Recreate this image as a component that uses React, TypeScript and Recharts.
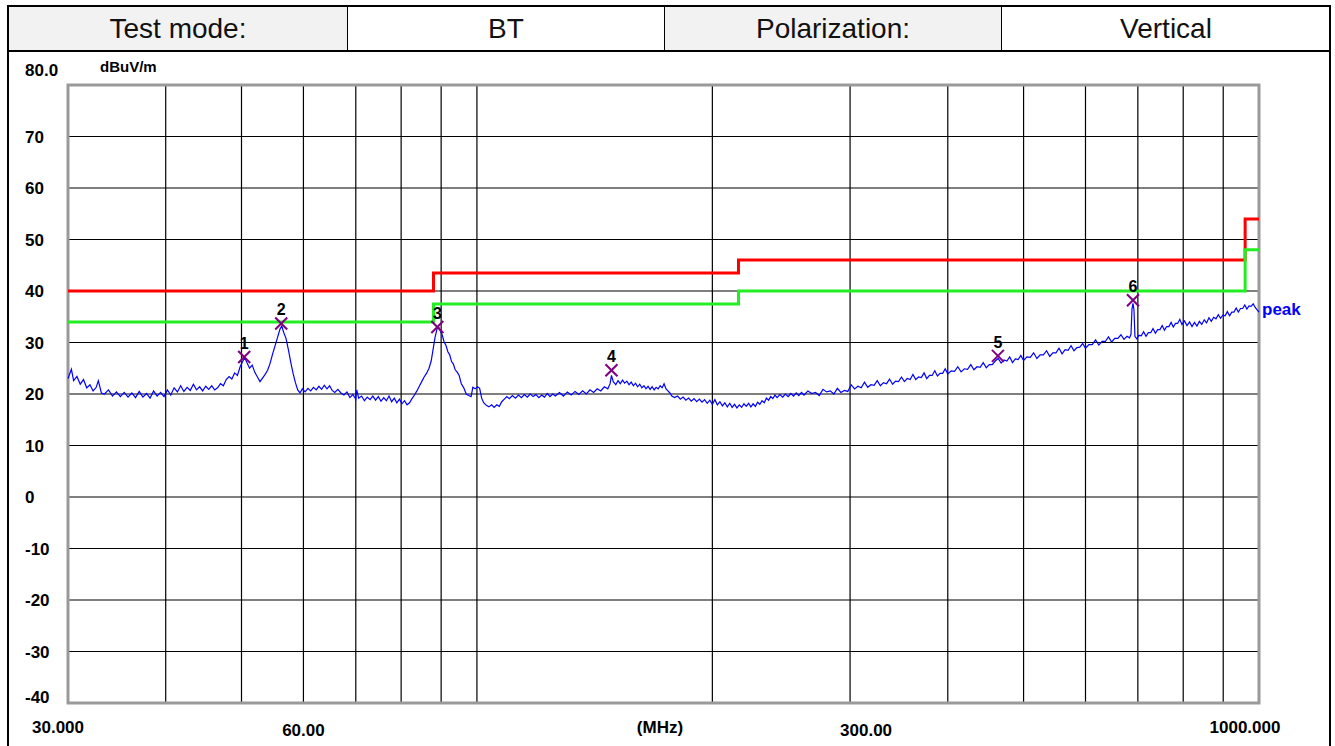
import React from 'react';
import {
  ComposedChart,
  Line,
  Scatter,
  XAxis,
  YAxis,
  CartesianGrid,
  ReferenceArea,
} from 'recharts';

const band30to100: [number, number][] = [
  [30.0, 23.0], [30.3, 24.8], [30.5, 22.6], [30.8, 23.4], [31.1, 21.9], [31.4, 22.8],
  [31.7, 21.2], [32.0, 21.8], [32.3, 20.6], [32.6, 21.3], [32.8, 22.6], [33.1, 20.2],
  [33.4, 20.0], [33.8, 20.8], [34.2, 19.6], [34.6, 20.4], [35.0, 19.5], [35.4, 20.3],
  [35.8, 19.4], [36.2, 20.2], [36.6, 19.3], [37.0, 20.5], [37.4, 19.4], [37.8, 20.1],
  [38.2, 19.2], [38.6, 20.6], [39.0, 19.6], [39.4, 20.3], [39.8, 19.5], [40.2, 20.8],
  [40.6, 19.8], [41.0, 21.2], [41.4, 20.4], [41.8, 21.6], [42.2, 20.5], [42.6, 21.3],
  [43.0, 20.7], [43.4, 21.9], [43.8, 20.8], [44.2, 21.4], [44.6, 20.6], [45.0, 21.5],
  [45.4, 20.9], [45.8, 21.6], [46.2, 20.8], [46.6, 21.2], [47.0, 22.0], [47.4, 21.6],
  [47.8, 22.8], [48.2, 23.4], [48.6, 22.9], [49.0, 24.1], [49.4, 23.6], [49.8, 25.3],
  [50.2, 26.4], [50.5, 27.0], [50.8, 26.1], [51.2, 25.0], [51.6, 25.6], [52.0, 24.2],
  [52.4, 23.3], [52.8, 22.4], [53.2, 23.1], [53.6, 23.8], [54.0, 24.6], [54.4, 26.0],
  [54.8, 27.8], [55.2, 29.4], [55.6, 31.0], [56.0, 32.6], [56.3, 33.2], [56.6, 32.0],
  [57.0, 30.8], [57.4, 28.6], [57.8, 26.2], [58.2, 24.0], [58.6, 22.2], [59.0, 20.8],
  [59.4, 20.2], [59.8, 21.0], [60.3, 20.4], [60.8, 21.1], [61.3, 20.6], [61.8, 21.3],
  [62.3, 20.8], [62.8, 21.5], [63.3, 20.9], [63.8, 21.7], [64.3, 21.0], [64.8, 21.6],
  [65.3, 20.7], [65.8, 20.3], [66.4, 20.9], [67.0, 20.2], [67.6, 19.8], [68.2, 20.4],
  [68.8, 19.3], [69.4, 19.9], [70.0, 19.0], [70.2, 20.8], [70.6, 19.2], [71.2, 19.6],
  [71.8, 18.7], [72.4, 19.4], [73.0, 18.9], [73.6, 19.6], [74.2, 18.8], [74.8, 19.5],
  [75.4, 18.6], [76.0, 19.3], [76.6, 18.7], [77.2, 19.6], [77.8, 18.5], [78.4, 19.2],
  [79.0, 18.3], [79.6, 19.0], [80.2, 18.1], [80.8, 18.7], [81.4, 17.9], [82.0, 18.3],
  [82.6, 19.1], [83.2, 19.8], [83.8, 20.6], [84.4, 21.5], [85.0, 22.4], [85.6, 23.3],
  [86.2, 24.0], [86.8, 24.9], [87.4, 26.4], [87.9, 28.7], [88.4, 31.0], [88.9, 32.6],
  [89.3, 33.1], [89.8, 32.2], [90.3, 31.4], [90.8, 30.1], [91.3, 29.4], [91.8, 28.2],
  [92.3, 27.6], [92.8, 26.3], [93.3, 25.8], [93.8, 24.7], [94.4, 24.2], [94.9, 23.6],
  [95.5, 22.0], [96.2, 21.2], [96.9, 20.0], [97.6, 19.7], [98.3, 19.5], [98.8, 21.3],
  [99.5, 21.0],
];

const band100to260: [number, number][] = [
  [100.2, 21.4], [100.8, 21.1], [101.4, 19.2], [102.0, 18.3], [102.8, 17.8], [103.6, 17.5],
  [104.4, 17.9], [105.2, 17.4], [106.0, 17.9], [106.8, 17.6], [107.6, 18.5], [108.4, 19.0],
  [109.2, 19.5], [110.0, 19.1], [111.0, 19.7], [112.0, 19.2], [113.0, 19.8], [114.0, 19.3],
  [115.0, 19.9], [116.0, 19.4], [117.0, 20.0], [118.0, 19.5], [119.0, 19.9], [120.0, 19.3],
  [121.0, 19.8], [122.0, 19.4], [123.0, 20.1], [124.0, 19.5], [125.0, 20.0], [126.0, 19.6],
  [127.5, 20.3], [129.0, 19.6], [130.5, 20.4], [132.0, 19.8], [133.5, 20.5], [135.0, 19.9],
  [136.5, 20.6], [138.0, 20.0], [139.5, 20.8], [141.0, 20.3], [142.5, 21.0], [144.0, 20.6],
  [145.5, 21.4], [147.0, 21.0], [148.0, 22.0], [148.6, 23.6], [149.4, 22.4], [150.5, 21.8],
  [151.5, 22.6], [152.5, 22.0], [153.5, 22.7], [154.5, 22.1], [155.5, 22.5], [156.5, 21.8],
  [157.5, 22.3], [158.5, 21.6], [159.5, 22.1], [160.5, 21.4], [161.5, 21.9], [162.5, 21.2],
  [163.5, 21.6], [164.5, 21.0], [165.5, 21.5], [166.5, 20.9], [167.5, 21.4], [168.5, 20.8],
  [169.5, 21.3], [170.5, 21.0], [171.5, 21.6], [172.5, 21.2], [173.5, 22.0], [174.5, 21.0],
  [175.5, 20.6], [176.5, 20.2], [177.5, 19.6], [179.0, 19.3], [180.5, 19.6], [182.0, 19.0],
  [183.5, 19.4], [185.0, 18.8], [186.5, 19.2], [188.0, 18.6], [189.5, 19.1], [191.0, 18.5],
  [192.5, 19.0], [194.0, 18.4], [195.5, 18.9], [197.0, 18.2], [198.5, 18.8], [200.0, 18.0],
  [201.5, 18.9], [203.0, 17.9], [204.5, 18.5], [206.0, 17.7], [207.5, 18.3], [209.0, 17.5],
  [210.5, 18.2], [212.0, 17.4], [213.5, 18.0], [215.0, 17.3], [216.5, 17.9], [218.0, 17.4],
  [219.5, 18.1], [221.0, 17.6], [222.5, 18.2], [224.0, 17.5], [225.5, 18.1], [227.0, 17.6],
  [228.5, 18.4], [230.0, 18.0], [231.5, 18.7], [233.0, 18.3], [234.5, 19.2], [236.0, 18.8],
  [237.5, 19.5], [239.0, 19.1], [240.5, 19.8], [242.0, 19.3], [244.0, 19.9], [246.0, 19.4],
  [248.0, 20.0], [250.0, 19.5], [252.0, 20.1], [254.0, 19.6], [256.0, 20.2], [258.0, 19.7],
  [260.0, 20.3],
];

const band260to1000: [number, number][] = [
  [262, 19.8], [265, 20.6], [268, 20.1], [271, 20.3], [274, 19.7], [277, 20.9], [280, 20.4],
  [283, 20.6], [286, 20.0], [289, 21.1], [292, 20.3], [295, 20.7], [298, 20.5], [301, 21.8],
  [304, 21.0], [307, 21.5], [310, 21.2], [313, 22.3], [316, 21.3], [319, 21.8], [322, 21.7],
  [325, 22.6], [328, 21.6], [331, 22.2], [334, 22.0], [337, 22.9], [340, 21.9], [343, 22.5],
  [346, 22.4], [349, 23.3], [352, 22.4], [355, 23.0], [358, 22.8], [361, 23.8], [364, 22.8],
  [367, 23.3], [370, 23.2], [373, 24.1], [376, 23.0], [379, 23.6], [382, 23.6], [385, 24.5],
  [388, 23.5], [391, 24.0], [394, 24.0], [397, 24.9], [400, 23.9], [404, 24.5], [408, 24.4],
  [412, 25.3], [416, 24.3], [420, 24.9], [424, 24.8], [428, 25.7], [432, 24.7], [436, 25.3],
  [440, 25.2], [444, 26.1], [448, 25.1], [452, 25.7], [456, 25.7], [460, 26.4], [464, 26.9],
  [468, 26.0], [472, 26.6], [476, 26.4], [480, 27.2], [484, 26.1], [488, 26.8], [492, 26.7],
  [496, 27.5], [500, 26.5], [505, 27.2], [510, 27.1], [515, 28.0], [520, 26.9], [525, 27.6],
  [530, 27.6], [535, 28.4], [540, 27.3], [545, 28.0], [550, 28.0], [555, 28.9], [560, 27.8],
  [565, 28.6], [570, 28.5], [575, 29.4], [580, 28.4], [585, 29.0], [590, 29.1], [595, 29.8],
  [600, 28.9], [606, 29.6], [612, 29.6], [618, 30.5], [624, 29.5], [630, 30.2], [636, 30.2],
  [642, 31.1], [648, 30.1], [654, 30.8], [660, 30.8], [666, 31.5], [672, 30.6], [678, 31.2],
  [683, 30.9], [686, 31.6], [688, 36.5], [690, 37.6], [692, 36.4], [694, 31.2], [698, 30.7],
  [702, 31.4], [707, 31.3], [712, 32.1], [717, 31.2], [722, 31.9], [727, 31.9], [732, 32.7],
  [737, 31.8], [742, 32.5], [747, 32.5], [752, 33.3], [757, 32.4], [762, 33.1], [767, 33.1],
  [772, 33.9], [777, 33.0], [782, 33.7], [787, 33.7], [792, 34.5], [797, 33.5], [803, 34.2],
  [809, 33.3], [815, 34.0], [821, 33.1], [827, 33.9], [833, 33.2], [839, 34.1], [845, 33.5],
  [851, 34.4], [857, 33.8], [863, 34.8], [869, 34.1], [875, 34.9], [881, 34.6], [887, 35.4],
  [893, 34.7], [899, 35.3], [905, 35.2], [911, 36.0], [917, 35.2], [923, 35.9], [929, 35.9],
  [935, 36.7], [941, 35.9], [947, 36.6], [953, 36.6], [959, 37.3], [965, 36.5], [971, 37.1],
  [977, 37.0], [983, 37.5], [989, 36.8], [994, 36.4], [1000, 35.9],
];

// FCC limit lines (step edges duplicated)
const limitFreq = [30, 88, 88, 216, 216, 960, 960, 1000];
const qpLimit = [40, 40, 43.5, 43.5, 46, 46, 54, 54];
const marginLimit = [34, 34, 37.5, 37.5, 40, 40, 48, 48];

// peak markers
const markerNo = [1, 2, 3, 4, 5, 6];
const markerFreq = [50.4, 56.2, 89.0, 148.6, 463.6, 690.0];
const markerLevel = [27.2, 33.7, 33.0, 24.6, 27.4, 38.2];

const yTicks = [-40, -30, -20, -10, 0, 10, 20, 30, 40, 50, 60, 70, 80];
const xGrid = [30, 40, 50, 60, 70, 80, 90, 100, 200, 300, 400, 500, 600, 700, 800, 900, 1000];
const xLabels: Record<number, string> = { 30: '30.000', 60: '60.00', 300: '300.00', 1000: '1000.000' };

const trace = [...band30to100, ...band100to260, ...band260to1000].map(([freq, level]) => ({ freq, level }));
const qpData = limitFreq.map((freq, i) => ({ freq, level: qpLimit[i] }));
const marginData = limitFreq.map((freq, i) => ({ freq, level: marginLimit[i] }));
const markers = markerNo.map((no, i) => ({ no, freq: markerFreq[i], level: markerLevel[i] }));
const traceEnd = [trace[trace.length - 1]];

const AXIS_FONT = '"Liberation Sans", Arial, sans-serif';
const PLOT_BOTTOM = 703;

// label nudges so the text sits like the analyser printout
const xLabelShift: Record<number, [number, number]> = {
  30: [-10, -3],
  60: [0, 0],
  300: [16, 0],
  1000: [-14, -3],
};

const YTick = (props: any) => {
  const { y, payload } = props;
  const v = payload.value;
  let text = String(v);
  let dy = 6;
  if (v === 80) {
    text = '80.0';
    dy = -9;
  }
  if (v === -40) dy = 0;
  return (
    <text x={25} y={y + dy} fontFamily={AXIS_FONT} fontWeight="bold" fontSize={17} fill="#000">
      {text}
    </text>
  );
};

const XTick = (props: any) => {
  const { x, payload } = props;
  const label = xLabels[payload.value];
  if (!label) return null;
  const [dx, dy] = xLabelShift[payload.value];
  return (
    <text
      x={x + dx}
      y={PLOT_BOTTOM + 33 + dy}
      textAnchor="middle"
      fontFamily={AXIS_FONT}
      fontWeight="bold"
      fontSize={17}
      fill="#000"
    >
      {label}
    </text>
  );
};

const MarkerShape = (props: any) => {
  const { cx, cy, payload } = props;
  const s = 6;
  return (
    <g>
      <line x1={cx - s} y1={cy - s} x2={cx + s} y2={cy + s} stroke="#800080" strokeWidth={2} />
      <line x1={cx - s} y1={cy + s} x2={cx + s} y2={cy - s} stroke="#800080" strokeWidth={2} />
      <text x={cx} y={cy - 8} textAnchor="middle" fontFamily={AXIS_FONT} fontWeight="bold" fontSize={16} fill="#000">
        {payload.no}
      </text>
    </g>
  );
};

const PeakLabel = (props: any) => {
  const { cx, cy } = props;
  return (
    <text x={cx + 3} y={cy + 3} fontFamily={AXIS_FONT} fontWeight="bold" fontSize={17} fill="#0000ff">
      peak
    </text>
  );
};

const headerCells = [
  { text: 'Test mode:', left: 8, width: 339, bg: '#f2f2f2' },
  { text: 'BT', left: 347, width: 317, bg: '#ffffff' },
  { text: 'Polarization:', left: 664, width: 337, bg: '#f2f2f2' },
  { text: 'Vertical', left: 1001, width: 329, bg: '#ffffff' },
];

export default function App() {
  return (
    <div style={{ position: 'relative', width: 1335, height: 746, background: '#fff', overflow: 'hidden' }}>
      <style>{'body{margin:0}'}</style>
      {headerCells.map((c) => (
        <div
          key={c.text}
          style={{
            position: 'absolute',
            left: c.left,
            top: 5,
            width: c.width,
            height: 47,
            background: c.bg,
            borderTop: '2px solid #000',
            borderBottom: '2px solid #000',
            borderLeft: '1px solid #000',
            boxSizing: 'border-box',
            display: 'flex',
            alignItems: 'center',
            justifyContent: 'center',
            fontFamily: '"Liberation Sans", Arial, sans-serif',
            fontSize: 28,
            color: '#111',
          }}
        >
          {c.text}
        </div>
      ))}
      <div style={{ position: 'absolute', left: 7, top: 5, width: 2, height: 741, background: '#000' }} />
      <div style={{ position: 'absolute', left: 1329, top: 5, width: 2, height: 741, background: '#000' }} />

      <ComposedChart
        width={1335}
        height={746}
        margin={{ top: 85, right: 76, bottom: 8, left: 8 }}
        style={{ position: 'absolute', left: 0, top: 0 }}
      >
        <CartesianGrid stroke="#000" strokeWidth={1.2} />
        <XAxis
          dataKey="freq"
          type="number"
          scale="log"
          domain={[30, 1000]}
          ticks={xGrid}
          interval={0}
          height={35}
          tick={<XTick />}
          tickLine={false}
          axisLine={false}
          label={{
            content: () => (
              <text x={660} y={PLOT_BOTTOM + 30} textAnchor="middle" fontFamily={AXIS_FONT} fontWeight="bold" fontSize={17} fill="#000">
                (MHz)
              </text>
            ),
          }}
        />
        <YAxis
          type="number"
          domain={[-40, 80]}
          ticks={yTicks}
          interval={0}
          width={60}
          tick={<YTick />}
          tickLine={false}
          axisLine={false}
          label={{
            content: () => (
              <text x={100} y={72} fontFamily={AXIS_FONT} fontWeight="bold" fontSize={15} fill="#000">
                dBuV/m
              </text>
            ),
          }}
        />
        <ReferenceArea x1={30} x2={1000} y1={-40} y2={80} fill="none" stroke="#9a9a9a" strokeWidth={3} />
        <Line data={trace} dataKey="level" stroke="#0000ff" strokeWidth={1.2} dot={false} isAnimationActive={false} />
        <Line data={qpData} dataKey="level" stroke="#ff0000" strokeWidth={3} dot={false} isAnimationActive={false} />
        <Line data={marginData} dataKey="level" stroke="#22ee22" strokeWidth={3} dot={false} isAnimationActive={false} />
        <Scatter data={markers} dataKey="level" shape={<MarkerShape />} isAnimationActive={false} />
        <Scatter data={traceEnd} dataKey="level" shape={<PeakLabel />} isAnimationActive={false} />
      </ComposedChart>
    </div>
  );
}
